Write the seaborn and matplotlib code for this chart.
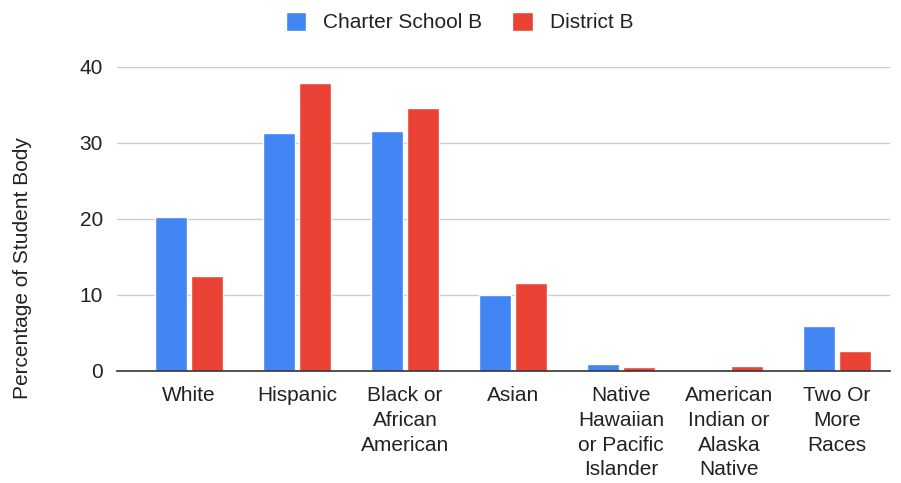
import pandas as pd
import numpy as np
import matplotlib.pyplot as plt
import seaborn as sns
from matplotlib.patches import Patch

groups = ["White", "Hispanic", "Black or\nAfrican\nAmerican", "Asian",
          "Native\nHawaiian\nor Pacific\nIslander", "American\nIndian or\nAlaska\nNative",
          "Two Or\nMore\nRaces"]
charter_b = [20.3, 31.3, 31.6, 10.0, 0.9, 0.0, 5.9]
district_b = [12.5, 37.9, 34.6, 11.6, 0.5, 0.6, 2.6]
series = ["Charter School B", "District B"]
colors = ["#4285F4", "#EA4335"]

df = pd.DataFrame({
    "group": groups * 2,
    "pct": charter_b + district_b,
    "school": [series[0]] * len(groups) + [series[1]] * len(groups),
})

sns.set_style("white")
plt.rcParams["font.family"] = ["Liberation Sans", "DejaVu Sans"]

fig = plt.figure(figsize=(9.01, 4.83), dpi=100)
ax = fig.add_axes([117 / 901, 1 - 371 / 483, 773 / 901, 304 / 483])

sns.barplot(data=df, x="group", y="pct", hue="school", palette=colors,
            width=0.66, gap=0.11, ax=ax, legend=False, saturation=1)

ax.set_ylim(0, 40)
ax.set_yticks([0, 10, 20, 30, 40])
ax.yaxis.grid(True, color="#cccccc", linewidth=1)
ax.set_axisbelow(True)
for s in ["top", "right", "left"]:
    ax.spines[s].set_visible(False)
ax.spines["bottom"].set_color("#333333")
ax.spines["bottom"].set_linewidth(1.2)
ax.tick_params(axis="both", length=0, labelsize=15, colors="#222222", pad=10)
ax.tick_params(axis="x", pad=11)
for lbl in ax.get_xticklabels():
    lbl.set_linespacing(1.38)
ax.set_xlabel("")
ax.set_ylabel("Percentage of Student Body", fontsize=15, color="#222222")
ax.yaxis.set_label_coords(-0.11, 0.34)
ax.set_xlim(-0.667, 6.49)

handles = [Patch(facecolor=c, label=s) for c, s in zip(colors, series)]
fig.legend(handles=handles, loc="center", bbox_to_anchor=(0.51, 0.954), ncol=2,
           frameon=False, fontsize=15, handlelength=1.0, handleheight=1.0,
           columnspacing=1.45, handletextpad=0.8, labelcolor="#222222")

fig.savefig("out.png", dpi=100)
